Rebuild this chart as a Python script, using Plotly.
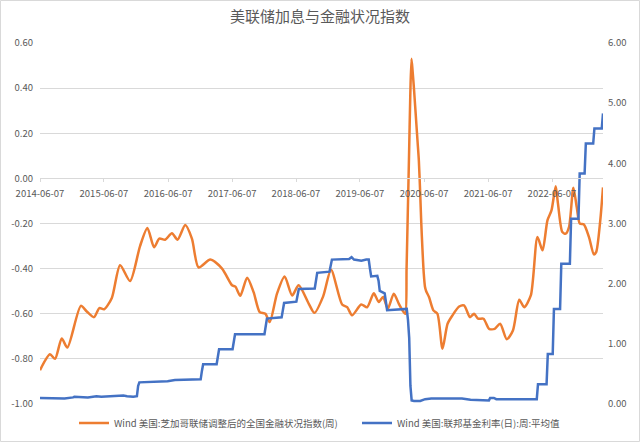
import plotly.graph_objects as go

# ---------------- data ----------------
anfci_dates = [
    "2014-06-07", "2014-08-03", "2014-09-01", "2014-10-09", "2014-11-10",
    "2015-01-26", "2015-03-01", "2015-04-11", "2015-05-12", "2015-06-08",
    "2015-07-22", "2015-09-07", "2015-11-03", "2015-12-30", "2016-02-10",
    "2016-03-19", "2016-04-18", "2016-05-21", "2016-06-29", "2016-07-31",
    "2016-09-13", "2016-10-21", "2016-11-28", "2017-02-03", "2017-04-11",
    "2017-06-07", "2017-06-26", "2017-07-24", "2017-09-01", "2017-10-08",
    "2017-11-12", "2017-12-14", "2018-01-08", "2018-02-19", "2018-04-03",
    "2018-05-16", "2018-06-22", "2018-08-19", "2018-09-20", "2018-11-09",
    "2018-12-24", "2019-02-25", "2019-03-26", "2019-04-23", "2019-06-14",
    "2019-07-18", "2019-08-25", "2019-09-22", "2019-10-17", "2019-11-13",
    "2019-12-17", "2020-01-15", "2020-02-09", "2020-02-21", "2020-02-28",
    "2020-03-06", "2020-03-13", "2020-03-20", "2020-03-27", "2020-04-03",
    "2020-04-10", "2020-04-17", "2020-04-24", "2020-05-01", "2020-05-08",
    "2020-05-15", "2020-05-22", "2020-05-29", "2020-06-05", "2020-06-12",
    "2020-06-19", "2020-07-05", "2020-07-30", "2020-08-22", "2020-09-20",
    "2020-10-19", "2020-11-16", "2020-12-24", "2021-01-21", "2021-02-24",
    "2021-03-19", "2021-04-11", "2021-05-12", "2021-06-13", "2021-07-15",
    "2021-08-15", "2021-09-22", "2021-10-27", "2021-12-02", "2021-12-30",
    "2022-02-06", "2022-03-16", "2022-04-14", "2022-05-12", "2022-06-04",
    "2022-06-28", "2022-07-11", "2022-08-05", "2022-08-24", "2022-09-12",
    "2022-10-07", "2022-10-26", "2022-11-13", "2022-12-06", "2023-01-04",
    "2023-02-01", "2023-02-14", "2023-03-09", "2023-03-25",
]
anfci_values = [
    -0.85, -0.78, -0.80, -0.71, -0.75,
    -0.565, -0.59, -0.615, -0.575, -0.58,
    -0.53, -0.385, -0.455, -0.30, -0.22,
    -0.305, -0.267, -0.272, -0.243, -0.272,
    -0.207, -0.267, -0.395, -0.36, -0.40,
    -0.474, -0.48, -0.52, -0.44, -0.504,
    -0.593, -0.60, -0.637, -0.51, -0.435,
    -0.519, -0.474, -0.556, -0.596, -0.523,
    -0.405, -0.559, -0.571, -0.607, -0.559,
    -0.571, -0.509, -0.548, -0.526, -0.578,
    -0.511, -0.556, -0.59, -0.60, -0.40,
    -0.15, 0.10, 0.36, 0.53, 0.47,
    0.40, 0.32, 0.24, 0.16, 0.08,
    -0.05, -0.20, -0.32, -0.42, -0.48,
    -0.50, -0.526, -0.585, -0.60, -0.755,
    -0.644, -0.607, -0.568, -0.563, -0.615,
    -0.60, -0.622, -0.622, -0.667, -0.667,
    -0.644, -0.713, -0.674, -0.538, -0.571,
    -0.519, -0.26, -0.319, -0.186, -0.142,
    -0.035, -0.112, -0.238, -0.245, -0.216,
    -0.041, -0.127, -0.201, -0.204, -0.26,
    -0.337, -0.327, -0.19, -0.04,
]

ffr_dates = [
    "2014-06-07", "2014-08-16", "2014-10-25", "2014-12-13", "2014-12-20",
    "2015-03-07", "2015-04-25", "2015-05-23", "2015-07-04", "2015-08-15",
    "2015-09-26", "2015-10-17", "2015-11-21", "2015-12-12", "2015-12-19",
    "2015-12-26", "2016-03-05", "2016-04-16", "2016-06-04", "2016-07-16",
    "2016-09-03", "2016-10-15", "2016-12-10", "2016-12-17", "2016-12-24",
    "2017-03-11", "2017-03-18", "2017-03-25", "2017-06-10", "2017-06-17",
    "2017-06-24", "2017-12-09", "2017-12-16", "2017-12-23", "2018-03-17",
    "2018-03-24", "2018-03-31", "2018-06-09", "2018-06-16", "2018-06-23",
    "2018-09-22", "2018-09-29", "2018-10-06", "2018-12-15", "2018-12-22",
    "2018-12-29", "2019-04-06", "2019-04-20", "2019-05-04", "2019-06-15",
    "2019-07-13", "2019-07-27", "2019-08-03", "2019-08-10", "2019-09-14",
    "2019-09-21", "2019-09-28", "2019-10-26", "2019-11-02", "2019-11-09",
    "2020-02-29", "2020-03-07", "2020-03-14", "2020-03-21", "2020-03-28",
    "2020-04-11", "2020-05-16", "2020-06-13", "2020-07-18", "2020-09-12",
    "2020-11-07", "2021-01-09", "2021-02-27", "2021-04-17", "2021-06-12",
    "2021-06-19", "2021-07-10", "2021-07-24", "2021-10-16", "2022-03-12",
    "2022-03-19", "2022-05-07", "2022-05-14", "2022-06-11", "2022-06-18",
    "2022-07-23", "2022-07-30", "2022-09-17", "2022-09-24", "2022-11-05",
    "2022-11-12", "2022-12-10", "2022-12-17", "2023-01-28", "2023-02-04",
    "2023-03-18", "2023-03-25",
]
ffr_values = [
    0.10, 0.09, 0.09, 0.11, 0.12,
    0.11, 0.13, 0.12, 0.13, 0.14,
    0.14, 0.13, 0.12, 0.13, 0.30,
    0.36, 0.37, 0.37, 0.38, 0.40,
    0.40, 0.41, 0.41, 0.55, 0.66,
    0.66, 0.80, 0.91, 0.91, 1.05,
    1.16, 1.16, 1.30, 1.42, 1.44,
    1.60, 1.68, 1.70, 1.82, 1.91,
    1.92, 2.08, 2.18, 2.20, 2.32,
    2.40, 2.41, 2.44, 2.40, 2.38,
    2.40, 2.40, 2.25, 2.12, 2.13,
    2.05, 1.88, 1.84, 1.70, 1.56,
    1.58, 1.40, 1.10, 0.30, 0.06,
    0.05, 0.05, 0.08, 0.09, 0.09,
    0.09, 0.09, 0.07, 0.07, 0.06,
    0.10, 0.10, 0.08, 0.08, 0.08,
    0.33, 0.33, 0.83, 0.83, 1.58,
    1.58, 2.33, 2.33, 3.08, 3.08,
    3.83, 3.83, 4.33, 4.33, 4.58,
    4.58, 4.83,
]

x_tick_dates = ["2014-06-07", "2015-06-07", "2016-06-07", "2017-06-07", "2018-06-07",
                "2019-06-07", "2020-06-07", "2021-06-07", "2022-06-07"]
x_tick_labels = ["2014-06-07", "2015-06-07", "2016-06-07", "2017-06-07", "2018-06-07",
                 "2019-06-07", "2020-06-07", "2021-06-07", "2022-06-07"]
left_tick_vals = [-1.0, -0.8, -0.6, -0.4, -0.2, 0.0, 0.2, 0.4, 0.6]
left_tick_labels = ["-1.00", "-0.80", "-0.60", "-0.40", "-0.20", "0.00", "0.20", "0.40", "0.60"]
right_tick_vals = [0, 1, 2, 3, 4, 5, 6]
right_tick_labels = ["0.00", "1.00", "2.00", "3.00", "4.00", "5.00", "6.00"]

title_text = "美联储加息与金融状况指数"
name_anfci = "Wind 美国:芝加哥联储调整后的全国金融状况指数(周)"
name_ffr = "Wind 美国:联邦基金利率(日):周:平均值"

# ---------------- figure ----------------
FONT = "Noto Sans CJK SC"
GRAY = "#595959"
GRID = "#d9d9d9"
ORANGE = "#ED7D31"
BLUE = "#4472C4"

fig = go.Figure()
fig.add_trace(go.Scatter(
    x=anfci_dates, y=anfci_values, name=name_anfci, mode="lines",
    line=dict(color=ORANGE, width=2.5, shape="spline", smoothing=0.7),
    yaxis="y", xaxis="x",
))
fig.add_trace(go.Scatter(
    x=ffr_dates, y=ffr_values, name=name_ffr, mode="lines",
    line=dict(color=BLUE, width=2.5),
    yaxis="y2", xaxis="x",
))

L, R, T, B = 40, 37, 43, 38
W, H = 640, 442
pw, ph = W - L - R, H - T - B
ymin, ymax = -1.0, 0.6
zero_pos = (0 - ymin) / (ymax - ymin)

def px_x(p):
    return (p - L) / pw

def px_y(p):
    return (H - B - p) / ph

fig.update_layout(
    width=W, height=H,
    margin=dict(l=L, r=R, t=T, b=B, autoexpand=False),
    paper_bgcolor="white", plot_bgcolor="white",
    font=dict(family=FONT, color=GRAY, size=10),
    title=dict(text=title_text, x=0.5, xanchor="center", y=1 - 17 / H, yanchor="middle",
               yref="container", font=dict(size=15, color=GRAY, family=FONT)),
    showlegend=True,
    legend=dict(orientation="h", x=px_x(74), xanchor="left", y=px_y(423), yanchor="middle",
                font=dict(size=9.5, color=GRAY, family=FONT), itemwidth=30,
                entrywidth=238, entrywidthmode="pixels",
                bgcolor="rgba(0,0,0,0)"),
    xaxis=dict(
        type="date", range=["2014-06-07", "2023-03-25"],
        tickvals=x_tick_dates, ticktext=x_tick_labels,
        anchor="free", position=zero_pos, automargin=False,
        showline=True, linecolor=GRID, linewidth=1,
        ticks="outside", ticklen=3, tickcolor=GRID, ticklabelstandoff=3,
        showgrid=False, zeroline=False,
        tickfont=dict(size=9.5, color=GRAY, family=FONT),
    ),
    yaxis=dict(
        range=[ymin, ymax], tickvals=left_tick_vals, ticktext=left_tick_labels,
        showgrid=True, gridcolor=GRID, gridwidth=1, zeroline=False, automargin=False,
        showline=False, ticks="", ticklabelstandoff=6,
        tickfont=dict(size=9.5, color=GRAY, family=FONT),
    ),
    yaxis2=dict(
        range=[0, 6], tickvals=right_tick_vals, ticktext=right_tick_labels,
        overlaying="y", side="right", showgrid=False, zeroline=False, automargin=False,
        showline=False, ticks="", ticklabelstandoff=4,
        tickfont=dict(size=9.5, color=GRAY, family=FONT),
    ),
    shapes=[dict(type="rect", xref="paper", yref="paper",
                 x0=px_x(0.5), x1=px_x(639.5), y0=px_y(441.5), y1=px_y(0.5),
                 line=dict(color=GRID, width=1), fillcolor="rgba(0,0,0,0)", layer="below")],
)

fig.write_html("out.html", config={"displayModeBar": False},
               post_script="document.body.style.margin='0';")
